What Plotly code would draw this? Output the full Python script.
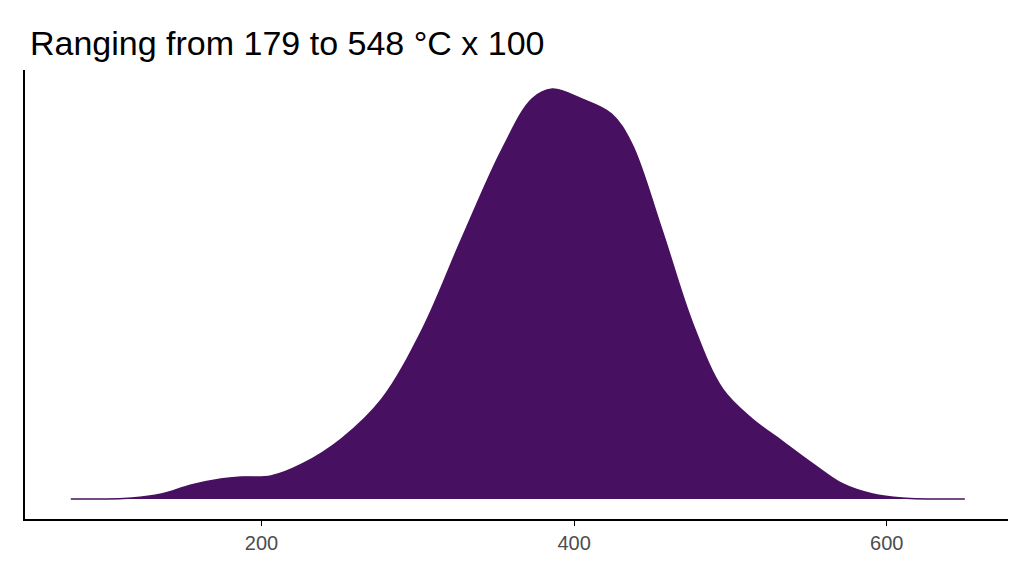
import plotly.graph_objects as go

x_vals = [78, 117, 136, 155, 174, 187, 206, 226, 251, 277, 303, 328, 354, 373, 386, 405, 424, 437, 456, 476, 495, 514, 533, 553, 572, 591, 610, 650]
density = [0, 1, 5, 14, 20, 22, 23, 35, 60, 100, 170, 260, 350, 400, 410, 400, 385, 355, 270, 175, 110, 80, 58, 35, 15, 5, 1, 0]
tick_vals = [200, 400, 600]

fig = go.Figure(go.Scatter(
    x=x_vals, y=density, mode="lines", fill="tozeroy",
    line=dict(color="#481060", width=1.5, shape="spline", smoothing=1.0),
    fillcolor="#481060", hoverinfo="skip"))

fig.update_layout(
    width=1024, height=576, plot_bgcolor="white", paper_bgcolor="white",
    margin=dict(l=17, r=24, t=62, b=65),
    title=dict(text="Ranging from 179 to 548 °C x 100", x=22/1024, xanchor="left",
               xref="container", y=1-35/576, yref="container", yanchor="middle",
               font=dict(family="Liberation Sans, Arial", size=34, color="black")),
    showlegend=False,
    xaxis=dict(range=[48.7, 677.6], tickvals=tick_vals, showgrid=False, zeroline=False,
               showline=True, linecolor="black", linewidth=2, ticks="outside",
               ticklen=5, tickcolor="black",
               tickfont=dict(family="Liberation Sans, Arial", size=20, color="#4d4d4d")),
    yaxis=dict(range=[-20, 429], showticklabels=False, showgrid=False, zeroline=False,
               showline=True, linecolor="black", linewidth=2, ticks=""),
)
fig.write_html("out.html")
